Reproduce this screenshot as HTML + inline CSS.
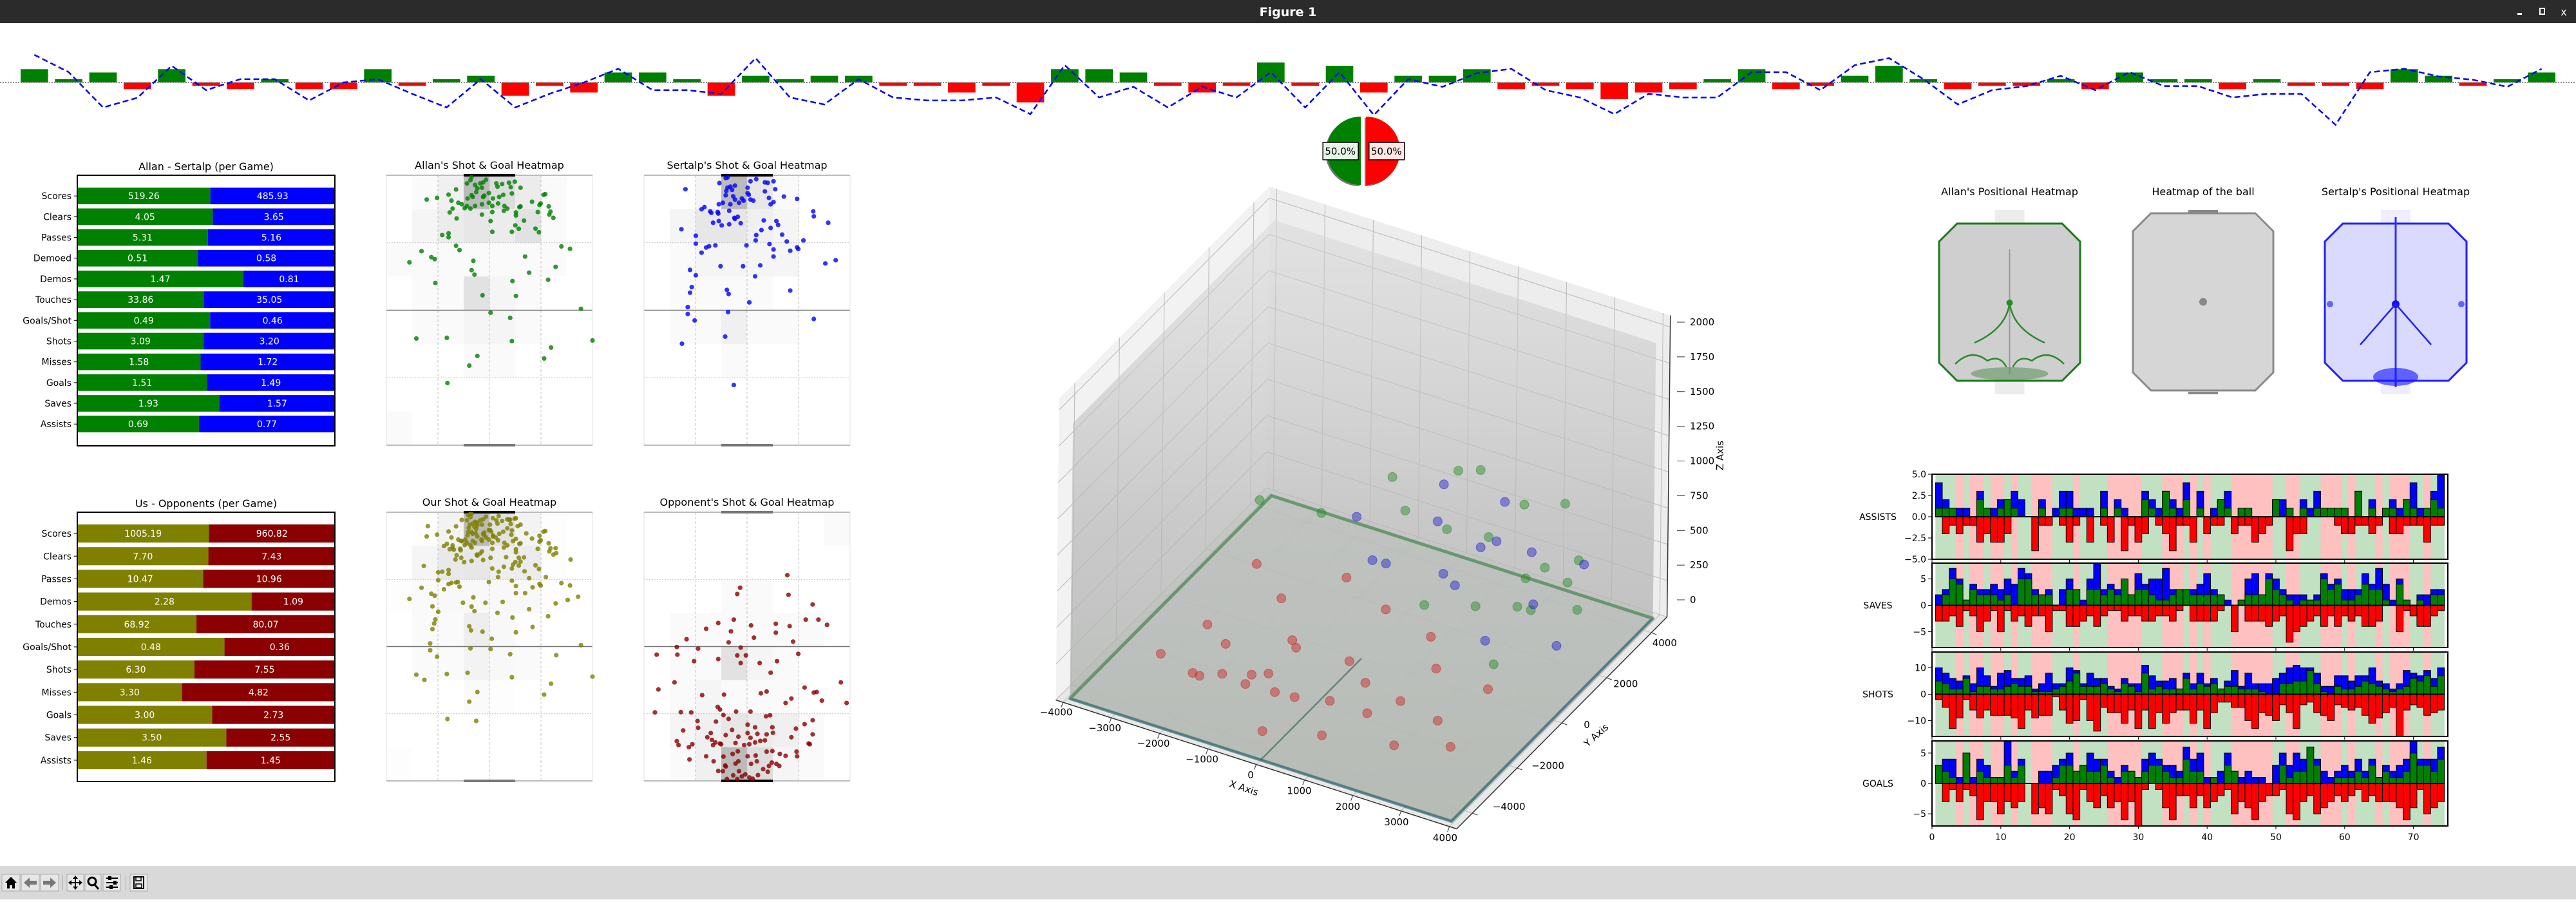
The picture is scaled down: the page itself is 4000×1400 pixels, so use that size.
<!DOCTYPE html>
<html><head><meta charset="utf-8"><title>Figure 1</title>
<style>
html,body{margin:0;padding:0;background:#fff;}
body{width:4000px;height:1396px;overflow:hidden;font-family:"DejaVu Sans","Liberation Sans",sans-serif;}
svg text{font-family:"DejaVu Sans","Liberation Sans",sans-serif;}
</style></head>
<body>
<svg id="fig" xmlns="http://www.w3.org/2000/svg" width="4000" height="1396" viewBox="0 0 4000 1396">
  <rect x="0" y="0" width="4000" height="1396" fill="#ffffff"/>
  <g>
    <rect x="0" y="0" width="4000" height="36" fill="#2b2b2b"/>
    <text x="2000" y="25" fill="#ffffff" font-size="19" font-weight="bold" text-anchor="middle">Figure 1</text>
    <rect x="3909" y="20" width="7" height="3" fill="#fff"/>
    <rect x="3944" y="13" width="7" height="9" fill="none" stroke="#fff" stroke-width="2"/>
    <text x="3981" y="24" fill="#fff" font-size="16" text-anchor="middle">x</text>
  </g>
  <g>
    <rect x="0" y="1344" width="4000" height="52" fill="#d9d9d9"/>
    <g><rect x="3" y="1357" width="28" height="26" fill="#e6e6e6" stroke="#aaa"/><path d="M17 1361 L8 1370 L11 1370 L11 1379 L15 1379 L15 1374 L19 1374 L19 1379 L23 1379 L23 1370 L26 1370 Z" fill="#000"/></g>
    <g><rect x="33" y="1357" width="28" height="26" fill="#e6e6e6" stroke="#aaa"/><path d="M37 1370 L46 1362 L46 1367 L57 1367 L57 1373 L46 1373 L46 1378 Z" fill="#777"/></g>
    <g><rect x="63" y="1357" width="28" height="26" fill="#e6e6e6" stroke="#aaa"/><path d="M87 1370 L78 1362 L78 1367 L67 1367 L67 1373 L78 1373 L78 1378 Z" fill="#777"/></g>
    <rect x="97" y="1358" width="1" height="24" fill="#aaa"/>
    <g><rect x="104" y="1357" width="26" height="26" fill="#e6e6e6" stroke="#aaa"/><path d="M117 1359 L121 1364 L118 1364 L118 1369 L123 1369 L123 1366 L128 1370 L123 1374 L123 1371 L118 1371 L118 1376 L121 1376 L117 1381 L113 1376 L116 1376 L116 1371 L111 1371 L111 1374 L106 1370 L111 1366 L111 1369 L116 1369 L116 1364 L113 1364 Z" fill="#000"/></g>
    <g><rect x="132" y="1357" width="25" height="26" fill="#e6e6e6" stroke="#aaa"/><circle cx="143" cy="1368" r="6" fill="none" stroke="#000" stroke-width="3"/><line x1="147" y1="1373" x2="153" y2="1380" stroke="#000" stroke-width="3"/></g>
    <g><rect x="160" y="1357" width="27" height="26" fill="#e6e6e6" stroke="#aaa"/><path d="M165 1363 H183 M165 1370 H183 M165 1377 H183" stroke="#000" stroke-width="2"/><rect x="168" y="1360" width="5" height="6" fill="#000"/><rect x="176" y="1367" width="5" height="6" fill="#000"/><rect x="170" y="1374" width="5" height="6" fill="#000"/></g>
    <rect x="195" y="1358" width="1" height="24" fill="#aaa"/>
    <g><rect x="202" y="1357" width="27" height="26" fill="#e6e6e6" stroke="#aaa"/><rect x="208" y="1361" width="15" height="18" fill="none" stroke="#000" stroke-width="2"/><rect x="211" y="1361" width="8" height="6" fill="none" stroke="#000" stroke-width="1.5"/><rect x="211" y="1372" width="9" height="6" fill="none" stroke="#000" stroke-width="1.5"/></g>
  </g>
</svg>
<script>
// ===================== DATA =====================
const goalDiff = [4,1,3,-2,4,-1,-2,1,-2,-2,4,-1,1,2,-4,-1,-3,3,3,1,-4,2,1,2,2,-1,-1,-3,-1,-6,4,4,3,-1,-3,-1,6,
  -1,5,-3,2,2,4,-2,-1,-2,-5,-3,-2,1,4,-2,-1,2,5,1,-2,-1,-1,1,-2,3,1,1,-2,1,-1,-1,-2,4,2,-1,1,3];
const trendLine = [8.3,3.1,-7.5,-4.6,5.0,-2.3,1.0,1.0,-5.4,0,1.0,-3.4,-7.5,1.0,-7.5,-3.4,0,4.1,-2.3,-2.3,-3.4,7.3,-4.5,-6.6,1.0,-4.5,-5.4,-5.4,-4.5,-9.5,5.2,-4.5,-1.3,-7.5,-1.3,-4.5,3.1,
  -7.5,3.1,-9.8,1.0,-1.3,2.8,4.1,-2.3,-4.5,-9.5,-3.4,-4.5,-4.5,3.1,3.1,-2.3,5.2,7.3,1.0,-6.6,-2.3,-1.1,2.0,-2.3,3.1,-1.1,-1.1,-4.5,-3.4,-3.4,-12.7,3.1,4.1,1.8,0.8,-1.3,4.1];

const assistsTeam = [4,2,1,1,1,0,3,1,1,2,2,3,2,0,0,2,0,1,3,3,1,1,1,0,3,0,2,1,0,0,3,2,1,3,2,1,4,0,3,0,1,2,3,0,1,1,0,0,0,2,2,1,0,2,1,3,1,1,1,1,0,3,0,2,0,1,2,1,2,4,1,1,3,5];
const assistsAllan = [1,1,1,0,0,0,2,1,0,1,2,1,0,0,0,1,0,0,1,1,0,0,0,0,1,0,1,0,0,0,2,1,0,3,1,0,2,0,1,0,0,2,1,0,1,1,0,0,0,2,0,1,0,1,0,1,1,1,1,1,0,3,0,1,0,1,1,0,2,1,0,1,2,1];
const assistsOpp = [0,2,1,2,1,1,3,2,3,3,2,0,0,0,4,1,1,0,1,3,1,0,3,0,1,3,0,4,1,3,2,0,1,2,4,1,1,3,0,2,1,1,0,2,1,1,3,2,1,0,0,4,2,2,0,0,0,0,1,2,2,1,1,2,1,0,2,2,1,1,1,3,1,1];
const savesTeam = [2,3,7,5,1,4,3,3,4,3,5,4,7,6,3,2,3,0,3,5,3,1,5,8,3,4,3,5,2,6,4,5,5,7,3,3,3,3,4,6,3,2,1,0,1,5,6,2,6,5,3,2,2,2,1,2,6,4,5,3,3,3,6,4,7,4,1,5,1,0,2,2,3,3];
const savesAllan = [0,2,5,4,1,3,2,2,2,1,2,0,5,5,2,2,2,0,0,3,3,0,3,3,2,3,2,5,2,3,3,2,1,1,2,3,3,2,2,2,2,2,0,0,1,2,2,2,5,3,2,1,0,1,1,1,5,3,4,1,1,2,4,3,3,1,0,4,1,0,1,0,2,2];
const savesOpp = [3,3,2,4,1,2,5,3,1,5,1,3,2,4,2,2,5,1,1,4,4,3,2,4,2,1,1,3,2,2,3,3,2,2,3,1,0,3,3,3,3,1,0,5,0,3,3,3,4,3,2,7,5,4,3,2,4,2,4,2,3,2,4,4,3,0,0,5,1,2,4,4,2,1];
const shotsTeam = [10,8,6,5,7,4,10,7,3,8,9,6,6,7,2,4,8,4,4,10,9,4,8,6,6,3,2,6,4,4,11,7,5,5,6,2,8,4,8,4,6,2,5,9,3,8,4,4,4,6,8,10,11,10,10,8,3,3,7,7,5,7,7,10,5,4,2,4,9,8,7,9,6,10];
const shotsAllan = [5,4,2,2,6,1,3,3,2,2,3,4,3,3,1,1,1,2,3,5,8,3,3,3,4,2,1,4,3,1,8,2,3,2,2,2,6,2,4,3,4,2,3,3,2,2,2,1,0,0,4,4,5,5,9,4,1,0,3,2,2,3,5,4,3,2,1,2,3,6,5,7,3,7];
const shotsOpp = [2,5,13,9,2,6,9,6,8,8,8,9,13,6,9,8,8,1,6,11,10,2,10,14,5,7,7,11,6,13,6,13,7,11,7,6,6,11,6,13,7,3,3,5,5,10,13,7,8,10,4,7,13,4,3,7,8,10,4,5,6,5,8,11,9,7,5,16,6,4,5,8,7,6];
const goalsTeam = [3,4,4,1,5,1,4,3,1,1,7,2,4,0,0,2,2,3,4,5,2,3,5,4,4,2,1,3,2,1,4,5,4,3,3,2,6,4,5,1,1,2,5,2,1,2,1,1,0,3,5,3,5,4,6,4,2,1,2,3,2,4,2,4,1,3,2,3,4,7,4,4,4,6];
const goalsAllan = [3,2,1,0,5,0,2,1,1,1,3,1,3,0,0,0,0,1,3,3,2,3,2,2,3,1,0,2,2,1,2,3,3,2,1,1,4,2,2,0,1,0,3,2,0,0,0,0,0,0,3,1,2,2,6,3,0,0,1,1,1,2,1,3,1,2,1,1,2,5,3,3,2,4];
const goalsOpp = [0,3,1,3,1,2,6,3,3,5,3,4,3,0,5,4,5,1,2,5,6,1,3,4,2,4,3,6,3,7,1,0,1,4,6,2,2,4,2,4,3,2,1,5,3,4,6,3,2,2,1,5,6,3,2,5,4,3,2,3,2,1,3,2,3,3,3,4,6,4,1,5,4,3];
const panelLabels = ['ASSISTS','SAVES','SHOTS','GOALS'];
const panelLimits = [5,8,16,7];
const assistsTicks = [5,2.5,0,-2.5,-5];
const savesTicks = [5,0,-5];
const shotsTicks = [10,0,-10];
const goalsTicks = [5,0,-5];
const gameTicks = [0,10,20,30,40,50,60,70];

const pairCategories = ['Scores','Clears','Passes','Demoed','Demos','Touches','Goals/Shot','Shots','Misses','Goals','Saves','Assists'];
const allanPerGame = [519.26,4.05,5.31,0.51,1.47,33.86,0.49,3.09,1.58,1.51,1.93,0.69];
const sertalpPerGame = [485.93,3.65,5.16,0.58,0.81,35.05,0.46,3.20,1.72,1.49,1.57,0.77];
const teamCategories = ['Scores','Clears','Passes','Demos','Touches','Goals/Shot','Shots','Misses','Goals','Saves','Assists'];
const usPerGame = [1005.19,7.70,10.47,2.28,68.92,0.48,6.30,3.30,3.00,3.50,1.46];
const oppPerGame = [960.82,7.43,10.96,1.09,80.07,0.36,7.55,4.82,2.73,2.55,1.45];

const allanShotX = [820,818,835,840,845,812,826,830,838,863,873,885,895,905,888,865,793,828,820,822,813,850,857,842,840,868,875,890,945,948,742,760,780,785,797,803,812,808,818,826,838,850,856,866,877,882,903,905,925,938,940,954,787,782,838,856,876,897,897,935,957,955,962,794,853,911,896,902,931,937,890,856,769,780,780,793,799,733,750,756,712,823,913,976,991,820,825,966,920,953,757,891,839,897,1010,853,887,724,777,890,1030,958,830,946,816,778];
const allanShotY = [135,150,165,160,148,165,172,188,185,165,168,162,157,185,182,180,193,205,220,228,235,210,235,222,228,228,218,212,218,215,240,232,217,245,255,262,270,280,282,270,262,255,270,258,270,282,275,272,250,265,258,272,282,300,310,298,292,300,314,298,296,310,325,328,340,338,360,376,375,392,390,390,405,397,415,455,475,480,508,517,532,525,505,458,469,568,589,553,580,613,628,619,685,688,748,766,790,886,883,898,895,928,967,979,1012,1093];
const sertalpShotX = [1265,1262,1305,1315,1330,1335,1345,1251,1192,1265,1270,1278,1263,1273,1300,1330,1348,1300,1302,1262,1275,1278,1290,1293,1305,1337,1363,1386,1250,1257,1270,1285,1310,1340,1345,1225,1220,1235,1237,1248,1249,1268,1277,1283,1278,1328,1350,1353,1268,1255,1240,1250,1288,1185,1324,1340,1315,1360,1414,1415,1440,1210,1210,1220,1228,1233,1244,1298,1338,1314,1368,1397,1345,1374,1386,1388,1345,1253,1292,1322,1200,1210,1313,1435,1453,1203,1200,1264,1267,1374,1303,1196,1196,1208,1266,1415,1261,1186,1276];
const sertalpShotY = [137,140,155,145,160,162,155,163,192,185,180,175,200,195,185,202,192,210,218,220,225,240,235,245,240,232,226,237,262,255,262,255,245,262,252,275,285,295,302,298,305,292,325,320,330,337,340,358,355,360,348,340,350,378,382,372,405,403,295,318,348,408,445,487,463,457,453,453,447,430,435,430,472,478,462,470,505,550,550,546,567,592,597,537,522,647,673,660,679,663,718,740,772,802,763,795,877,910,1102];
const oppShotX = [1369,1287,1282,1371,1413,1276,1249,1228,1271,1306,1349,1373,1401,1423,1438,1311,1349,1194,1267,1379,1177,1214,1288,1142,1178,1207,1249,1282,1297,1288,1321,1351,1388,1340,1173,1145,1221,1259,1323,1333,1376,1366,1399,1415,1420,1429,1462,1472,1139,1184,1202,1248,1252,1280,1258,1305,1332,1339,1213,1245,1267,1300,1313,1343,1384,1399,1413,1188,1214,1236,1230,1238,1244,1252,1262,1273,1284,1300,1305,1317,1333,1344,1376,1413,1177,1180,1204,1198,1240,1254,1279,1294,1303,1313,1322,1330,1406,1408,1228,1199,1241,1258,1274,1283,1300,1314,1333,1343,1356,1366,1385,1386,1261,1262,1279,1285,1284,1306,1316,1327,1337,1342,1350,1355,1249,1257,1275,1290,1296,1303,1309,1318,1335,1264,1282];
const oppShotY = [328,376,400,403,440,498,511,533,543,520,514,523,498,498,518,567,548,573,585,582,603,609,605,632,632,657,649,635,635,664,664,657,629,701,738,765,787,785,780,773,800,817,758,777,775,808,738,817,853,852,853,832,842,850,863,850,868,864,886,888,878,900,910,910,915,898,883,922,912,932,948,958,968,972,940,920,946,932,950,935,937,931,948,937,963,978,975,986,978,975,970,978,975,968,962,960,972,975,1021,1033,1040,1022,1012,1002,1021,1018,1003,1001,1012,1019,1003,1021,1056,1060,1049,1078,1040,1050,1040,1070,1058,1045,1050,1058,1077,1078,1094,1098,1090,1102,1107,1093,1080,1108,1108];
const allanHeat = [[0,1,3,14,7,4,1,0],[0,2,4,5,4,6,1,0],[1,1,1,1,1,1,1,0],[0,1,1,6,2,1,0,0],[0,1,1,2,2,1,0,0],[0,0,0,1,1,0,0,0],[0,0,0,0,0,0,0,0],[1,0,0,0,0,0,0,0]];
const sertalpHeat = [[0,0,2,14,5,1,0,0],[0,2,5,5,3,2,0,0],[0,1,2,2,2,2,0,0],[0,1,1,1,1,0,0,0],[0,1,1,3,1,1,0,0],[0,0,0,1,0,0,0,0],[0,0,0,0,0,0,0,0],[0,0,0,0,0,0,0,0]];
const oppHeat = [[0,0,0,0,0,0,0,1],[0,0,0,0,0,0,0,0],[0,0,0,1,1,0,0,0],[0,1,1,1,1,1,1,0],[0,1,1,6,2,1,0,0],[0,1,2,1,1,1,0,0],[0,2,3,5,4,3,1,0],[0,1,3,14,7,2,1,0]];

const redX = [-1500,-1200,-800,-500,-1800,-1000,-300,0,-2200,-700,500,1000,1500,2000,2500,-2500,-3000,-1300,300,800,1500,2200,-200,-1600,-2000,400,1200,-600,2800,3000];
const redY = [-3000,-2600,-3200,-2800,-2200,-2000,-2300,-3000,-2800,-1600,-2500,-2000,-1500,-1000,-2000,-1500,-2500,-800,-1200,-3500,-3000,-3300,-4000,-3800,-400,200,500,600,-400,-2500];
const redZ = [200,100,300,150,250,100,400,200,100,300,150,250,100,300,150,200,100,400,200,100,250,150,100,300,500,350,200,400,150,100];
const greenX = [1000,1500,2000,2500,3000,500,0,-500,1200,2200,2800,-1000,1800,3300,-2000,600,-2500,2500,1500,2800];
const greenY = [3500,4000,3000,3800,3200,4200,3800,3000,2500,2200,1500,3500,4300,2500,2500,1500,800,500,1000,3000];
const greenZ = [400,600,300,200,500,700,300,500,100,250,400,600,150,300,400,200,700,150,1300,900];
const blueX = [700,1300,300,1800,-300,2300,1000,-800,2000,-1500,400,2700,3200,-200,1600];
const blueY = [3800,3200,3000,3700,4300,2700,2000,2200,1200,3000,2500,4100,1800,1500,2900];
const blueZ = [250,450,150,350,500,200,300,250,150,350,600,300,150,400,800];
const xTicks3d = [-4000,-3000,-2000,-1000,0,1000,2000,3000,4000];
const yTicks3d = [-4000,-2000,0,2000,4000];
const zTicks3d = [0,250,500,750,1000,1250,1500,1750,2000];

// ===================== HELPERS =====================
const NS = 'http://www.w3.org/2000/svg';
const svg = document.getElementById('fig');
function mk(tag, attrs, parent) {
  const e = document.createElementNS(NS, tag);
  for (const k in attrs) e.setAttribute(k, attrs[k]);
  (parent || svg).appendChild(e);
  return e;
}
function group(parent) { return mk('g', {}, parent); }
function fmtTick(v) { return v < 0 ? '\u2212' + Math.abs(v) : String(v); }

// ===================== TOP STRIP =====================
const stripG = group();


const stripX = v => v * 4000 / 75;
const stripY = v => 128 - v * 5.17;
goalDiff.forEach((d, i) => {
  const cx = stripX(i + 1), w = stripX(0.8);
  const r = mk('rect', {x: cx - w / 2, y: Math.min(stripY(d), stripY(0)), width: w, height: Math.abs(stripY(d) - stripY(0)), fill: d >= 0 ? '#008000' : '#ff0000'}, stripG);
  
  
});
const baseLine = mk('line', {x1: 0, x2: 4000, y1: stripY(0), y2: stripY(0), stroke: '#888', 'stroke-width': 2, 'stroke-dasharray': '2,2'}, stripG);


const trend = mk('polyline', {points: trendLine.map((v, i) => stripX(i + 1) + ',' + stripY(v)).join(' '), fill: 'none', stroke: '#0000ff', 'stroke-width': 2.5, 'stroke-dasharray': '9,5'}, stripG);



// ===================== PIE =====================
const wins = goalDiff.filter(d => d > 0).length;
const losses = goalDiff.filter(d => d < 0).length;
const pieG = group();


(function () {
  const cx = 2117, cy = 234, R = 53;
  const total = wins + losses;
  const slices = [{v: wins, c: '#008000', lbl: '#e8f3e8', name: 'win-slice'}, {v: losses, c: '#ff0000', lbl: '#ffe6e6', name: 'loss-slice'}];
  let a0 = Math.PI / 2;
  slices.forEach((s, k) => {
    const a1 = a0 + 2 * Math.PI * s.v / total;
    const mid = (a0 + a1) / 2;
    const ox = Math.cos(mid) * 4, oy = -Math.sin(mid) * 4;
    const p = (a) => [cx + ox + R * Math.cos(a), cy + oy - R * Math.sin(a)];
    const [x0, y0] = p(a0), [x1, y1] = p(a1);
    const large = (a1 - a0) > Math.PI ? 1 : 0;
    const d = `M${cx + ox},${cy + oy} L${x0},${y0} A${R},${R} 0 ${large} 0 ${x1},${y1} Z`;
    mk('path', {d: d, fill: '#777', transform: 'translate(-2,2)'}, pieG);
    const w = mk('path', {d: d, fill: s.c}, pieG);
    
    
    const lx = cx + ox + R * 0.6 * Math.cos(mid), ly = cy + oy - R * 0.6 * Math.sin(mid);
    mk('rect', {x: lx - 27, y: ly - 13, width: 55, height: 27, fill: s.lbl, stroke: '#000', 'stroke-width': 1.5}, pieG);
    const t = mk('text', {x: lx, y: ly + 6, 'font-size': 15, 'text-anchor': 'middle', fill: '#000'}, pieG);
    t.textContent = (100 * s.v / total).toFixed(1) + '%';
    
    
    a0 = a1;
  });
})();

// ===================== PAIR BAR PANELS =====================
function pairPanel(name, title, cats, left, right, cLeft, cRight, box, ylim) {
  const g = group();
  
  
  const [x0, y0, x1, y1] = box;
  const yS = v => y0 + (v - ylim[0]) / (ylim[1] - ylim[0]) * (y1 - y0);
  const pitch = yS(1) - yS(0);
  const tt = mk('text', {x: (x0 + x1) / 2, y: y0 - 8, 'font-size': 16, 'text-anchor': 'middle', fill: '#000'}, g);
  tt.textContent = title;
  
  
  cats.forEach((c, i) => {
    const frac = left[i] / (left[i] + right[i]);
    const yc = yS(i), h = pitch * 0.8;
    const xm = x0 + frac * (x1 - x0);
    const b1 = mk('rect', {x: x0, y: yc - h / 2, width: xm - x0, height: h, fill: cLeft}, g);
    
    
    const b2 = mk('rect', {x: xm, y: yc - h / 2, width: x1 - xm, height: h, fill: cRight}, g);
    
    
    const t1 = mk('text', {x: (x0 + xm) / 2, y: yc + 5, 'font-size': 14, 'text-anchor': 'middle', fill: '#fff'}, g);
    t1.textContent = left[i].toFixed(2);
    
    
    const t2 = mk('text', {x: (xm + x1) / 2, y: yc + 5, 'font-size': 14, 'text-anchor': 'middle', fill: '#fff'}, g);
    t2.textContent = right[i].toFixed(2);
    
    
    mk('line', {x1: x0 - 5, x2: x0, y1: yc, y2: yc, stroke: '#000', 'stroke-width': 1}, g);
    const tl = mk('text', {x: x0 - 9, y: yc + 5, 'font-size': 14, 'text-anchor': 'end', fill: '#000'}, g);
    tl.textContent = c;
    
    
  });
  const fr = mk('rect', {x: x0, y: y0, width: x1 - x0, height: y1 - y0, fill: 'none', stroke: '#000', 'stroke-width': 2}, g);
  
  
}
pairPanel('allan-sertalp-bars', 'Allan - Sertalp (per Game)', pairCategories, allanPerGame, sertalpPerGame, '#008000', '#0000ff', [120, 272, 520, 692], [-1, 12.05]);
pairPanel('us-opponents-bars', 'Us - Opponents (per Game)', teamCategories, usPerGame, oppPerGame, '#808000', '#8b0000', [120, 795, 520, 1213], [-0.94, 10.94]);

// ===================== SHOT HEATMAPS =====================
function shotMap(name, title, box, heats, pointSets, topGoal, botGoal) {
  const g = group();
  
  
  const [x0, y0, x1, y1] = box;
  const W = x1 - x0, H = y1 - y0;
  const tt = mk('text', {x: (x0 + x1) / 2, y: y0 - 10, 'font-size': 16, 'text-anchor': 'middle', fill: '#000'}, g);
  tt.textContent = title;
  
  
  const grid = heats[0].map((row, r) => row.map((v, c) => heats.reduce((s, h) => s + h[r][c], 0)));
  const mx = Math.max(...grid.flat());
  grid.forEach((row, r) => row.forEach((v, c) => {
    const gv = Math.round(255 - 68 * v / mx);
    const cell = mk('rect', {x: x0 + c * W / 8, y: y0 + r * H / 8, width: W / 8 + 0.5, height: H / 8 + 0.5, fill: `rgb(${gv},${gv},${gv})`}, g);
    
    
  }));
  [0.25, 0.5, 0.75].forEach(f => mk('line', {x1: x0 + f * W, x2: x0 + f * W, y1: y0, y2: y1, stroke: '#c4c4c4', 'stroke-width': 1, 'stroke-dasharray': '4,3'}, g));
  [0.25, 0.75].forEach(f => mk('line', {x1: x0, x2: x1, y1: y0 + f * H, y2: y0 + f * H, stroke: '#c4c4c4', 'stroke-width': 1, 'stroke-dasharray': '2,2'}, g));
  mk('line', {x1: x0, x2: x1, y1: y0 + H / 2, y2: y0 + H / 2, stroke: '#777', 'stroke-width': 1.5}, g);
  mk('rect', {x: x0, y: y0, width: W, height: H, fill: 'none', stroke: '#e2e2e2', 'stroke-width': 1}, g);
  mk('line', {x1: x0, x2: x1, y1: y0, y2: y0, stroke: '#bbb', 'stroke-width': 2}, g);
  mk('line', {x1: x0, x2: x1, y1: y1, y2: y1, stroke: '#bbb', 'stroke-width': 2}, g);
  const gt = mk('rect', {x: x0 + W * 3 / 8, y: y0 - 2, width: W / 4, height: 4, fill: topGoal}, g);
  
  
  const gb = mk('rect', {x: x0 + W * 3 / 8, y: y1 - 2, width: W / 4, height: 4, fill: botGoal}, g);
  
  
  pointSets.forEach(ps => {
    const xs = v => x0 + (v - ps.dx[0]) / (ps.dx[1] - ps.dx[0]) * W;
    const ys = v => y0 + (v - ps.dy[0]) / (ps.dy[1] - ps.dy[0]) * H;
    ps.x.forEach((vx, i) => {
      const c = mk('circle', {cx: xs(vx), cy: ys(ps.y[i]), r: 3.6, fill: ps.color, 'fill-opacity': 0.8}, g);
      
      
    });
  });
}
const frameA = {dx: [672, 1030], dy: [127, 1382]};
const frameS = {dx: [1120, 1478], dy: [127, 1382]};
const frameO = {dx: [1120, 1478], dy: [87, 1115]};
shotMap('allan-shot-heatmap', "Allan's Shot & Goal Heatmap", [600, 272, 920, 691], [allanHeat], [{x: allanShotX, y: allanShotY, color: '#008000', ...frameA}], '#000', '#777');
shotMap('sertalp-shot-heatmap', "Sertalp's Shot & Goal Heatmap", [1000, 272, 1320, 691], [sertalpHeat], [{x: sertalpShotX, y: sertalpShotY, color: '#0000ff', ...frameS}], '#000', '#777');
shotMap('our-shot-heatmap', 'Our Shot & Goal Heatmap', [600, 795, 920, 1212], [allanHeat, sertalpHeat], [{x: allanShotX, y: allanShotY, color: '#808000', ...frameA}, {x: sertalpShotX, y: sertalpShotY, color: '#808000', ...frameS}], '#000', '#777');
shotMap('opponent-shot-heatmap', "Opponent's Shot & Goal Heatmap", [1000, 795, 1320, 1212], [oppHeat], [{x: oppShotX, y: oppShotY, color: '#8b0000', ...frameO}], '#777', '#000');

// ===================== POSITIONAL HEATMAPS =====================
function positional(name, title, x0, x1, y0, y1, fill, stroke, goalFill, feature) {
  const g = group();
  
  
  const t = mk('text', {x: (x0 + x1) / 2, y: 303, 'font-size': 16, 'text-anchor': 'middle', fill: '#000'}, g);
  t.textContent = title;
  
  
  const cx = (x0 + x1) / 2, gw = 23;
  mk('rect', {x: cx - gw, y: y0 - 21, width: 2 * gw, height: 21, fill: goalFill}, g);
  mk('rect', {x: cx - gw, y: y1, width: 2 * gw, height: 21, fill: goalFill}, g);
  const c = 28;
  const d = `M${x0 + c},${y0} L${x1 - c},${y0} L${x1},${y0 + c} L${x1},${y1 - c} L${x1 - c},${y1} L${x0 + c},${y1} L${x0},${y1 - c} L${x0},${y0 + c} Z`;
  const body = mk('path', {d: d, fill: fill, stroke: stroke, 'stroke-width': 3}, g);
  
  
  feature(g, cx, x0, x1, y0, y1);
}
positional('allan-positional-heatmap', "Allan's Positional Heatmap", 3011, 3230, 347, 591, '#cfcfcf', '#1a7a1a', '#ececec', (g, cx, x0, x1, y0, y1) => {
  mk('line', {x1: cx, x2: cx, y1: y0 + 40, y2: y1 - 10, stroke: '#999', 'stroke-width': 2}, g);
  mk('circle', {cx: cx, cy: 470, r: 5, fill: '#2a8a2a'}, g);
  mk('path', {d: `M${cx},470 Q${cx - 5},510 ${x0 + 55},532 M${cx},470 Q${cx + 5},510 ${x1 - 55},532`, stroke: '#2a8a2a', 'stroke-width': 2.5, fill: 'none'}, g);
  mk('path', {d: `M${x0 + 25},565 Q${x0 + 50},540 ${x0 + 75},560 Q${x0 + 95},550 ${cx - 5},570 M${x1 - 25},565 Q${x1 - 50},540 ${x1 - 75},560 Q${x1 - 95},550 ${cx + 5},570`, stroke: '#2a8a2a', 'stroke-width': 2.5, fill: 'none'}, g);
  mk('ellipse', {cx: cx, cy: 580, rx: 60, ry: 10, fill: '#4a8a4a', 'fill-opacity': 0.5}, g);
});
positional('ball-heatmap', 'Heatmap of the ball', 3312, 3530, 331, 606, '#d6d6d6', '#8a8a8a', '#ffffff', (g, cx, x0, x1, y0, y1) => {
  mk('rect', {x: cx - 23, y: y0 - 5, width: 46, height: 4, fill: '#888'}, g);
  mk('rect', {x: cx - 23, y: y1 + 2, width: 46, height: 4, fill: '#888'}, g);
  mk('circle', {cx: cx, cy: (y0 + y1) / 2, r: 6, fill: '#888'}, g);
});
positional('sertalp-positional-heatmap', "Sertalp's Positional Heatmap", 3610, 3830, 347, 591, '#dadaff', '#2020ff', '#eeeeff', (g, cx, x0, x1, y0, y1) => {
  mk('line', {x1: cx, x2: cx, y1: y0 - 10, y2: y1 + 10, stroke: '#3030ff', 'stroke-width': 3}, g);
  mk('circle', {cx: cx, cy: 472, r: 6, fill: '#1010ff'}, g);
  mk('path', {d: `M${cx},472 L${cx - 55},535 M${cx},472 L${cx + 55},535`, stroke: '#2020ff', 'stroke-width': 2.5, fill: 'none'}, g);
  mk('ellipse', {cx: cx, cy: 585, rx: 35, ry: 14, fill: '#1010ff', 'fill-opacity': 0.6}, g);
  mk('circle', {cx: x0 + 8, cy: 472, r: 5, fill: '#3030ff', 'fill-opacity': 0.7}, g);
  mk('circle', {cx: x1 - 8, cy: 472, r: 5, fill: '#3030ff', 'fill-opacity': 0.7}, g);
});

// ===================== PER-GAME STACKED PANELS =====================
const panelTeam = [assistsTeam, savesTeam, shotsTeam, goalsTeam];
const panelAllan = [assistsAllan, savesAllan, shotsAllan, goalsAllan];
const panelOpp = [assistsOpp, savesOpp, shotsOpp, goalsOpp];
const panelTicks = [assistsTicks, savesTicks, shotsTicks, goalsTicks];
const panelBoxes = [[736, 868], [874, 1005], [1012, 1143], [1150, 1282]];
const gX = v => 3000 + v * 801 / 75;
panelLabels.forEach((lab, p) => {
  const g = group();
  
  
  const [top, bot] = panelBoxes[p];
  const lim = panelLimits[p];
  const yS = v => (top + bot) / 2 - v * (bot - top) / (2 * lim);
  goalDiff.forEach((d, i) => {
    const bg = mk('rect', {x: gX(i + 0.5), y: top, width: gX(1) - gX(0) + 0.3, height: bot - top, fill: d > 0 ? '#c2e0c2' : '#ffc0c0'}, g);
    
    
  });
  const bw = gX(1) - gX(0);
  panelTeam[p].forEach((v, i) => {
    if (v > 0) {
      const b = mk('rect', {x: gX(i + 0.5), y: yS(v), width: bw, height: yS(0) - yS(v), fill: '#0000ff', stroke: '#000', 'stroke-width': 1}, g);
      
      
    }
  });
  panelAllan[p].forEach((v, i) => {
    if (v > 0) {
      const b = mk('rect', {x: gX(i + 0.5), y: yS(v), width: bw, height: yS(0) - yS(v), fill: '#008000', stroke: '#000', 'stroke-width': 1}, g);
      
      
    }
  });
  panelOpp[p].forEach((v, i) => {
    if (v > 0) {
      const b = mk('rect', {x: gX(i + 0.5), y: yS(0), width: bw, height: yS(-v) - yS(0), fill: '#ff0000', stroke: '#000', 'stroke-width': 1}, g);
      
      
    }
  });
  mk('line', {x1: gX(0.5), x2: gX(74.5), y1: yS(0), y2: yS(0), stroke: '#000', 'stroke-width': 2}, g);
  const fr = mk('rect', {x: 3000, y: top, width: 801, height: bot - top, fill: 'none', stroke: '#000', 'stroke-width': 2}, g);
  
  
  panelTicks[p].forEach(tv => {
    mk('line', {x1: 2994, x2: 3000, y1: yS(tv), y2: yS(tv), stroke: '#000'}, g);
    const t = mk('text', {x: 2991, y: yS(tv) + 5, 'font-size': 14, 'text-anchor': 'end', fill: '#000'}, g);
    t.textContent = p === 0 ? (tv < 0 ? '\u2212' : '') + Math.abs(tv).toFixed(1) : fmtTick(tv);
    
    
  });
  gameTicks.forEach(tv => mk('line', {x1: gX(tv), x2: gX(tv), y1: bot, y2: bot + 5, stroke: '#000'}, g));
  const yl = mk('text', {x: 2916, y: (top + bot) / 2 + 5, 'font-size': 14, 'text-anchor': 'middle', fill: '#000'}, g);
  yl.textContent = lab;
  
  
  if (p === 3) {
    gameTicks.forEach(tv => {
      const t = mk('text', {x: gX(tv), y: bot + 22, 'font-size': 14, 'text-anchor': 'middle', fill: '#000'}, g);
      t.textContent = String(tv);
      
      
    });
  }
});

// ===================== 3D SCATTER =====================
const g3 = group();


const XM = 4150, YMIN = -4700, YMAX = 4700, ZT = 2080;
function proj(x, y, z) { return [2114 + x * 0.075 + y * 0.03475 + z * 0.0025, 1022 + x * 0.0241 - y * 0.035 - z * 0.225]; }
function pts(list) { return list.map(p => proj(...p).join(',')).join(' '); }
const defs = mk('defs', {}, g3);
const lg = mk('linearGradient', {id: 'cloudGrad', x1: 0, y1: 0, x2: 0, y2: 1}, defs);
mk('stop', {offset: '0', 'stop-color': '#d4d4d4', 'stop-opacity': '0.45'}, lg);
mk('stop', {offset: '0.5', 'stop-color': '#b8b8b8', 'stop-opacity': '0.7'}, lg);
mk('stop', {offset: '1', 'stop-color': '#a8aea8', 'stop-opacity': '0.85'}, lg);
const paneL = mk('polygon', {points: pts([[-XM, YMIN, 0], [-XM, YMAX, 0], [-XM, YMAX, ZT], [-XM, YMIN, ZT]]), fill: '#f2f2f2'}, g3);


const paneB = mk('polygon', {points: pts([[-XM, YMAX, 0], [XM, YMAX, 0], [XM, YMAX, ZT], [-XM, YMAX, ZT]]), fill: '#ededed'}, g3);


const paneF = mk('polygon', {points: pts([[-XM, YMIN, 0], [XM, YMIN, 0], [XM, YMAX, 0], [-XM, YMAX, 0]]), fill: '#e8e8e8'}, g3);


const gridSty = {stroke: '#c0c0c0', 'stroke-width': 1.2, fill: 'none'};
xTicks3d.forEach(v => mk('polyline', {points: pts([[v, YMIN, 0], [v, YMAX, 0], [v, YMAX, ZT]]), ...gridSty}, g3));
yTicks3d.forEach(v => mk('polyline', {points: pts([[XM, v, 0], [-XM, v, 0], [-XM, v, ZT]]), ...gridSty}, g3));
zTicks3d.forEach(v => mk('polyline', {points: pts([[-XM, YMIN, v], [-XM, YMAX, v], [XM, YMAX, v]]), ...gridSty}, g3));
const cloud = mk('polygon', {points: pts([[-3950, -4500, 0], [3950, -4500, 0], [3950, 4500, 0], [3950, 4500, 1900], [-3950, 4500, 1900], [-3950, -4500, 1900]]), fill: 'url(#cloudGrad)'}, g3);


const floorCloud = mk('polygon', {points: pts([[-3950, -4500, 0], [3950, -4500, 0], [3950, 4500, 0], [-3950, 4500, 0]]), fill: '#b9c0ba', 'fill-opacity': 0.55, stroke: '#2f7a3a', 'stroke-width': 5, 'stroke-opacity': 0.6, 'stroke-linejoin': 'round'}, g3);


mk('polyline', {points: pts([[-3950, -4500, 0], [3950, -4500, 0], [3950, 4500, 0]]), fill: 'none', stroke: '#3b55b0', 'stroke-width': 3, 'stroke-opacity': 0.5}, g3);
mk('polyline', {points: pts([[0, -4500, 0], [0, 0, 0]]) , fill: 'none', stroke: '#1a4a3a', 'stroke-width': 2.5, 'stroke-opacity': 0.5}, g3);
function markers(xs, ys, zs, color, nm) {
  xs.forEach((x, i) => {
    const [px, py] = proj(x, ys[i], zs[i]);
    const c = mk('circle', {cx: px, cy: py, r: 7, fill: color, 'fill-opacity': 0.45, stroke: color, 'stroke-opacity': 0.5}, g3);
    
    
  });
}
markers(redX, redY, redZ, '#cc2222', 'opponent-touch-marker');
markers(greenX, greenY, greenZ, '#228b22', 'allan-touch-marker');
markers(blueX, blueY, blueZ, '#2222cc', 'sertalp-touch-marker');
const axSty = {stroke: '#333', 'stroke-width': 1.5, fill: 'none'};
mk('polyline', {points: pts([[-XM, YMIN, 0], [XM, YMIN, 0]]), ...axSty}, g3);
mk('polyline', {points: pts([[XM, YMIN, 0], [XM, YMAX, 0]]), ...axSty}, g3);
mk('polyline', {points: pts([[XM, YMAX, 0], [XM, YMAX, ZT]]), ...axSty}, g3);
const xLab = v => [1942 + v * 0.0755, 1208 + v * 0.0244];
const yLab = v => [2464 + v * 0.0302, 1130 - v * 0.0317];
const zLab = v => [2624, 936 - v * 0.2155];
xTicks3d.forEach(v => {
  const [tx, ty] = proj(v, YMIN, 0);
  mk('line', {x1: tx, y1: ty, x2: tx - 3, y2: ty + 8, stroke: '#333'}, g3);
  const [lx, ly] = xLab(v);
  const t = mk('text', {x: lx, y: ly, 'font-size': 15, 'text-anchor': 'middle', fill: '#000'}, g3);
  t.textContent = fmtTick(v);
  
  
});
yTicks3d.forEach(v => {
  const [tx, ty] = proj(XM, v, 0);
  mk('line', {x1: tx, y1: ty, x2: tx + 8, y2: ty + 3, stroke: '#333'}, g3);
  const [lx, ly] = yLab(v);
  const t = mk('text', {x: lx, y: ly, 'font-size': 15, 'text-anchor': 'middle', fill: '#000'}, g3);
  t.textContent = fmtTick(v);
  
  
});
zTicks3d.forEach(v => {
  const [lx, ly] = zLab(v);
  mk('line', {x1: lx - 20, y1: ly - 5, x2: lx - 8, y2: ly - 5, stroke: '#333'}, g3);
  const t = mk('text', {x: lx, y: ly, 'font-size': 15, 'text-anchor': 'start', fill: '#000'}, g3);
  t.textContent = String(v);
  
  
});
const xt = mk('text', {x: 1930, y: 1228, 'font-size': 15, 'text-anchor': 'middle', fill: '#000', transform: 'rotate(18 1930 1228)'}, g3);
xt.textContent = 'X Axis';


const yt = mk('text', {x: 2482, y: 1145, 'font-size': 15, 'text-anchor': 'middle', fill: '#000', transform: 'rotate(-42 2482 1145)'}, g3);
yt.textContent = 'Y Axis';


const zt = mk('text', {x: 2676, y: 707, 'font-size': 15, 'text-anchor': 'middle', fill: '#000', transform: 'rotate(-90 2676 707)'}, g3);
zt.textContent = 'Z Axis';


</script>
</body></html>
